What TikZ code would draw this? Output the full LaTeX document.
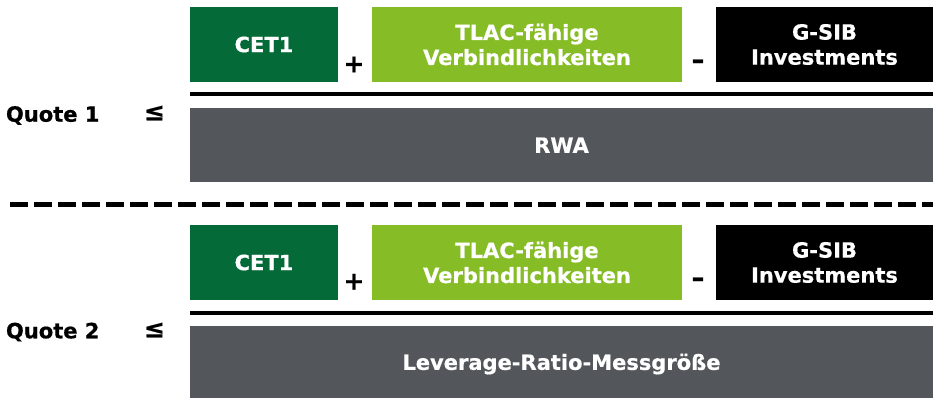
\documentclass[tikz,border=0pt]{standalone}
\usepackage{fontspec}
\setmainfont{DejaVu Sans}[BoldFeatures={FakeBold=0.6}]
\definecolor{dgreen}{HTML}{046A38}
\definecolor{lgreen}{HTML}{86BC25}
\definecolor{cgray}{HTML}{53565A}
\begin{document}
\begin{tikzpicture}[x=1pt,y=-1pt,
  txt/.style={font=\fontsize{21}{25}\selectfont\bfseries, inner sep=0pt, outer sep=0pt},
  box/.style={txt, text=white, align=center, draw=none, rectangle},
  lbl/.style={txt, text=black},
  sym/.style={inner sep=0pt, outer sep=0pt, text=black, font=\fontsize{25}{25}\selectfont\bfseries},
  rulebar/.style={line width=4pt, black},
  sep/.style={line width=5pt, black, dash pattern=on 18pt off 6pt}]
\useasboundingbox (0,0) rectangle (933,398);
\fill[white] (0,0) rectangle (933,398);
% section 1
\node[box, fill=dgreen, minimum width=148pt, minimum height=75pt] (cetA) at (264,44.5) {CET1};
\node[box, fill=lgreen, minimum width=310pt, minimum height=75pt] (tlacA) at (527,44.5) {TLAC-fähige\\Verbindlichkeiten};
\node[box, fill=black, minimum width=217pt, minimum height=75pt] (gsibA) at (824.5,44.5) {G-SIB\\Investments};
\node[sym] (plusA) at (354,64.5) {+};
\node[sym, xscale=1.3] (minusA) at (698,64) {-};
\coordinate (rAl) at (190,93.7);
\coordinate (rAr) at (933,93.7);
\draw[rulebar] (rAl) -- (rAr);
\node[box, fill=cgray, minimum width=743pt, minimum height=74.5pt] (rwa) at (561.5,145.2) {RWA};
\node[lbl, anchor=base west] (quoteA) at (6,121.7) {Quote 1};
\node[sym] (leA) at (154.5,113) {≤};
% separator
\coordinate (sl) at (10,204.5);
\coordinate (sr) at (933,204.5);
\draw[sep] (sl) -- (sr);
% section 2
\node[box, fill=dgreen, minimum width=148pt, minimum height=75pt] (cetB) at (264,262.5) {CET1};
\node[box, fill=lgreen, minimum width=310pt, minimum height=75pt] (tlacB) at (527,262.5) {TLAC-fähige\\Verbindlichkeiten};
\node[box, fill=black, minimum width=217pt, minimum height=75pt] (gsibB) at (824.5,262.5) {G-SIB\\Investments};
\node[sym] (plusB) at (354,281.7) {+};
\node[sym, xscale=1.3] (minusB) at (698,282) {-};
\coordinate (rBl) at (190,312.5);
\coordinate (rBr) at (933,312.5);
\draw[rulebar] (rBl) -- (rBr);
\node[box, fill=cgray, minimum width=743pt, minimum height=76pt] (lev) at (561.5,364) {Leverage-Ratio-Messgröße};
\node[lbl, anchor=base west] (quoteB) at (6,338.3) {Quote 2};
\node[sym] (leB) at (154.5,330) {≤};
\end{tikzpicture}
\end{document}
